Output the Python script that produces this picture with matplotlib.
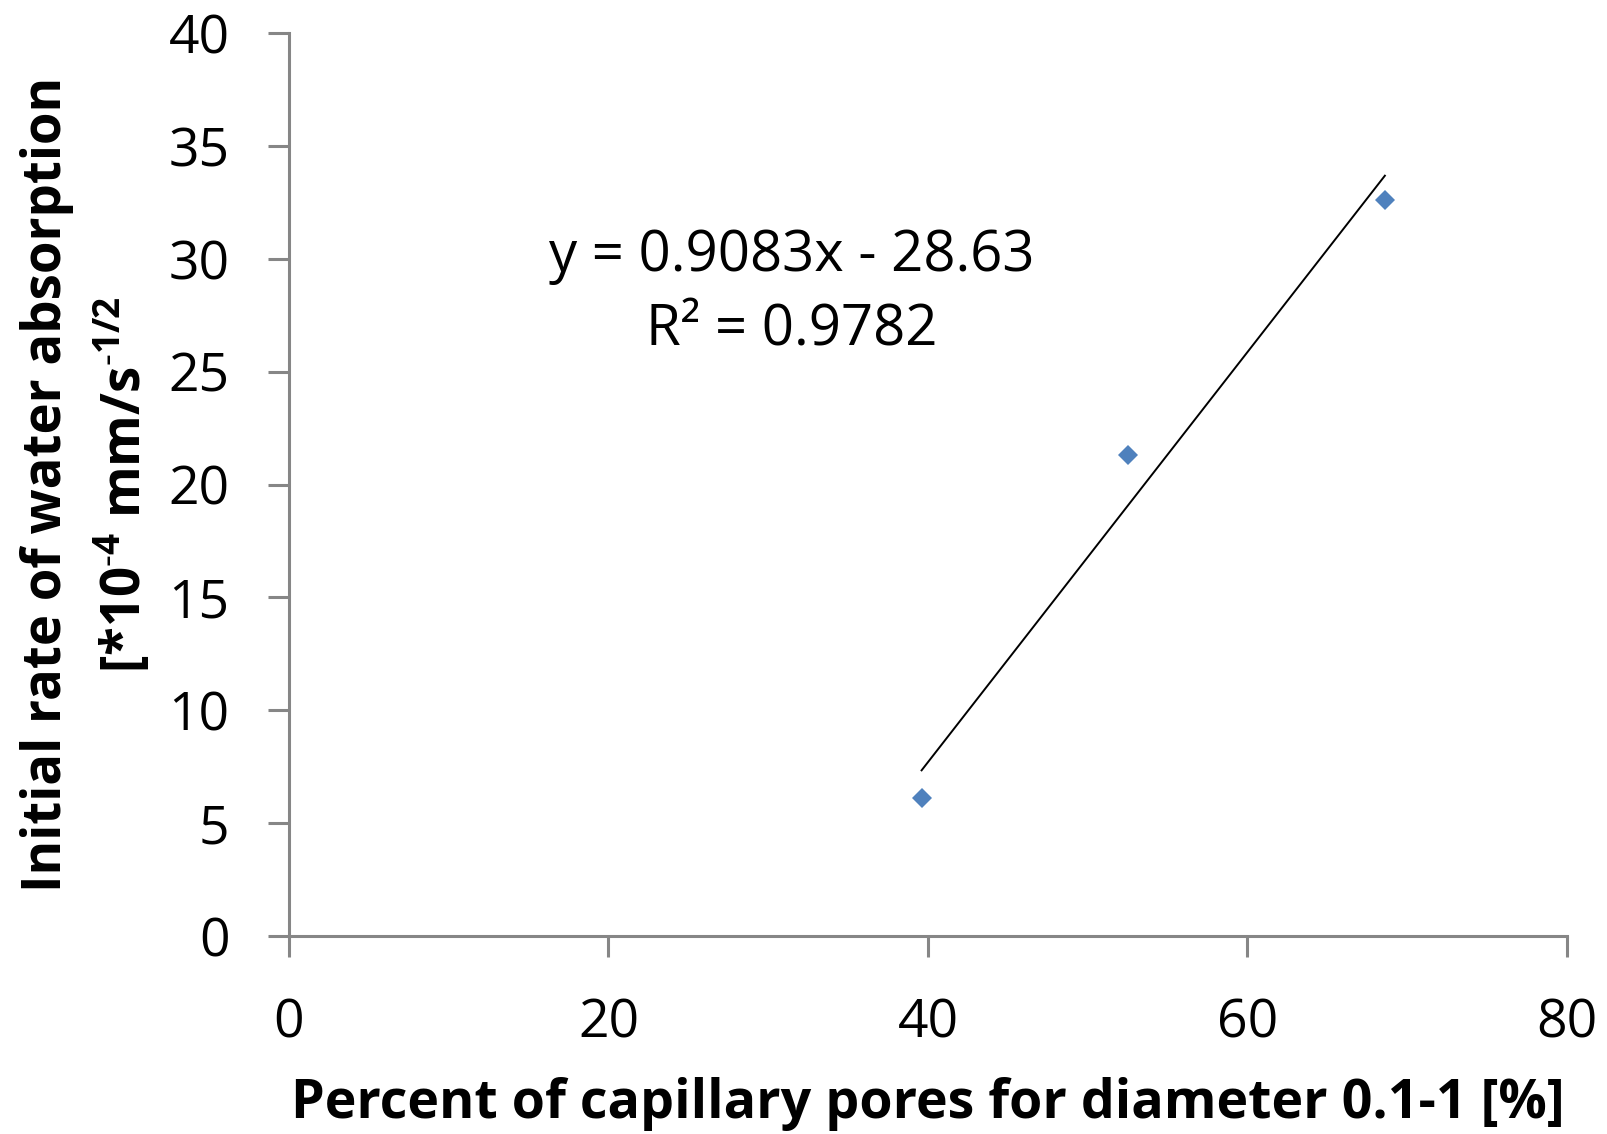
import numpy as np
import matplotlib.pyplot as plt

# данные
pores_pct = [39.6, 52.5, 68.6]
absorption_rate = [6.1, 21.3, 32.6]
slope, intercept = 0.9083, -28.63
r_squared = 0.9782

x_ticks = [0, 20, 40, 60, 80]
y_ticks = [0, 5, 10, 15, 20, 25, 30, 35, 40]

plt.rcParams['font.family'] = ['Open Sans', 'DejaVu Sans']
plt.rcParams['mathtext.fontset'] = 'custom'
plt.rcParams['mathtext.rm'] = 'Open Sans'
plt.rcParams['mathtext.bf'] = 'Open Sans:bold'

fig = plt.figure(figsize=(16.08, 11.34), dpi=100)
ax = fig.add_axes([0.1797, 0.1746, 0.7948, 0.7963])

# тренд
xs = np.array([min(pores_pct), max(pores_pct)])
ax.plot(xs, slope * xs + intercept, color='black', lw=1.4, zorder=2)

ax.plot(pores_pct, absorption_rate, linestyle='none', marker='D',
        markersize=10.5, color='#4F81BD', markeredgewidth=0, zorder=3)

ax.text(31.5, 30.1, f'y = {slope}x - {abs(intercept)}', fontsize=40.5,
        ha='center', va='center')
ax.text(31.5, 26.8, f'R² = {r_squared}', fontsize=40.5,
        ha='center', va='center')

ax.set_xlim(0, 80)
ax.set_ylim(0, 40)
ax.set_xticks(x_ticks)
ax.set_yticks(y_ticks)

for side in ['top', 'right']:
    ax.spines[side].set_visible(False)
for side in ['left', 'bottom']:
    ax.spines[side].set_color('#868686')
    ax.spines[side].set_linewidth(2.2)

ax.tick_params(axis='both', direction='out', length=14.8, width=2.2,
               color='#868686', labelsize=38.5)
ax.tick_params(axis='x', pad=29)
ax.tick_params(axis='y', pad=28)

ax.set_xlabel('Percent of capillary pores for diameter 0.1-1 [%]',
              fontsize=38.7, fontweight='bold', labelpad=19)
ax.set_ylabel('Initial rate of water absorption\n'
              '[*10$^{\\mathbf{\\text{-}4}}$ mm/s$^{\\mathbf{\\text{-}1/2}}$',
              fontsize=38, fontweight='bold', labelpad=10, linespacing=1.4)

fig.savefig('out.png', dpi=100)
